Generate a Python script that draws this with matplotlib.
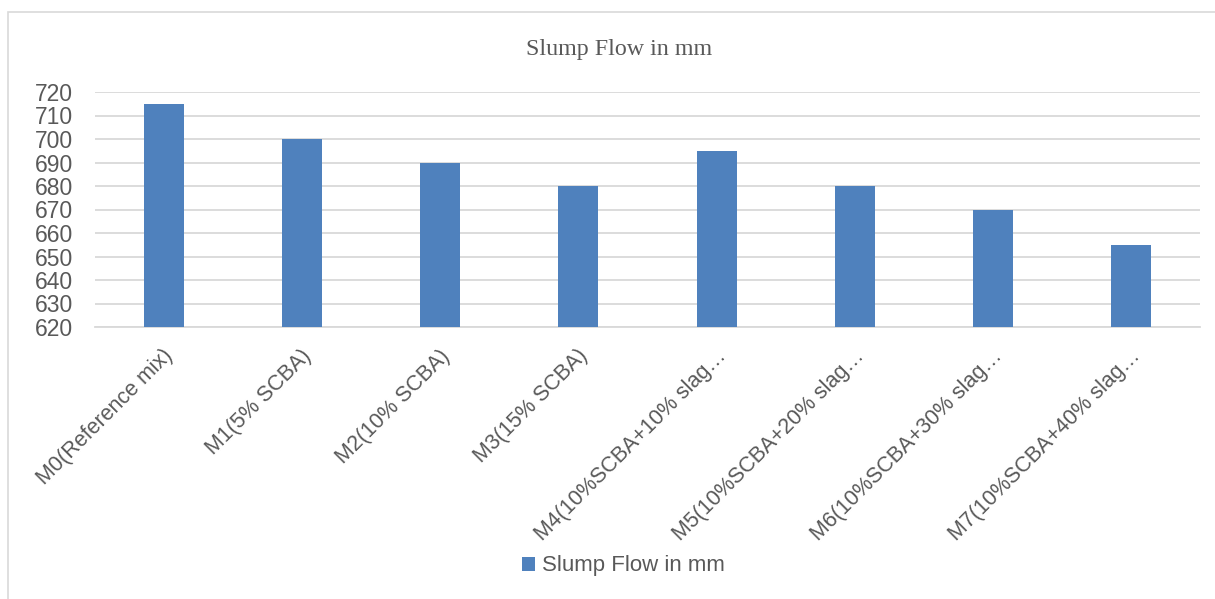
import matplotlib
matplotlib.use("Agg")
import matplotlib.pyplot as plt
import matplotlib.patches as mpatches
from matplotlib.transforms import ScaledTranslation

# data
mixes = ["M0(Reference mix)", "M1(5% SCBA)", "M2(10% SCBA)", "M3(15% SCBA)",
         "M4(10%SCBA+10% slag…", "M5(10%SCBA+20% slag…",
         "M6(10%SCBA+30% slag…", "M7(10%SCBA+40% slag…"]
slump_flow = [715, 700, 690, 680, 695, 680, 670, 655]
y_ticks = list(range(620, 721, 10))

bar_color = "#4F81BD"
text_color = "#595959"
grid_color = "#D9D9D9"

plt.rcParams["font.family"] = ["Liberation Sans", "DejaVu Sans"]

fig = plt.figure(figsize=(12.15, 5.99), dpi=100)
ax = fig.add_axes([95 / 1215, 1 - 327 / 599, 1105 / 1215, 235 / 599])

x = list(range(len(mixes)))
ax.bar(x, slump_flow, width=0.29, color=bar_color, label="Slump Flow in mm", zorder=3)

ax.set_xlim(-0.5, len(mixes) - 0.5)
ax.set_ylim(620, 720)
ax.set_yticks(y_ticks)
ax.set_yticklabels([str(v) for v in y_ticks], fontsize=16.5, color=text_color)
ax.tick_params(axis="y", length=0, pad=16)
ax.set_xticks([])
ax.grid(axis="y", color=grid_color, linewidth=1.3, zorder=0)
for side in ["top", "right", "left"]:
    ax.spines[side].set_visible(False)
ax.spines["bottom"].set_color(grid_color)
ax.spines["bottom"].set_linewidth(1.3)

# rotated category labels, ending just under each bar
offset = ScaledTranslation(6 / 100, -26 / 100, fig.dpi_scale_trans)
for xi, name in zip(x, mixes):
    ax.text(xi, 0, name, transform=ax.get_xaxis_transform() + offset,
            rotation=45, rotation_mode="anchor", ha="right", va="center",
            fontsize=15.5, color=text_color)

fig.text(619 / 1215, 1 - 49 / 599, "Slump Flow in mm", ha="center", va="center",
         fontsize=17.3, color=text_color, family="Liberation Serif")

ax.legend(loc="center", bbox_to_anchor=(623 / 1215, 1 - 566 / 599),
          bbox_transform=fig.transFigure, frameon=False, fontsize=16,
          handlelength=0.6, handleheight=0.6, handletextpad=0.3,
          labelcolor=text_color)

# chart area border (left and top edges visible)
frame = mpatches.Rectangle((8 / 1215, -0.05), 1.2, 1 - 12 / 599 + 0.05,
                           transform=fig.transFigure, fill=False,
                           edgecolor=grid_color, linewidth=1.2, clip_on=False)
fig.patches.append(frame)

fig.savefig("out.png", dpi=100)
